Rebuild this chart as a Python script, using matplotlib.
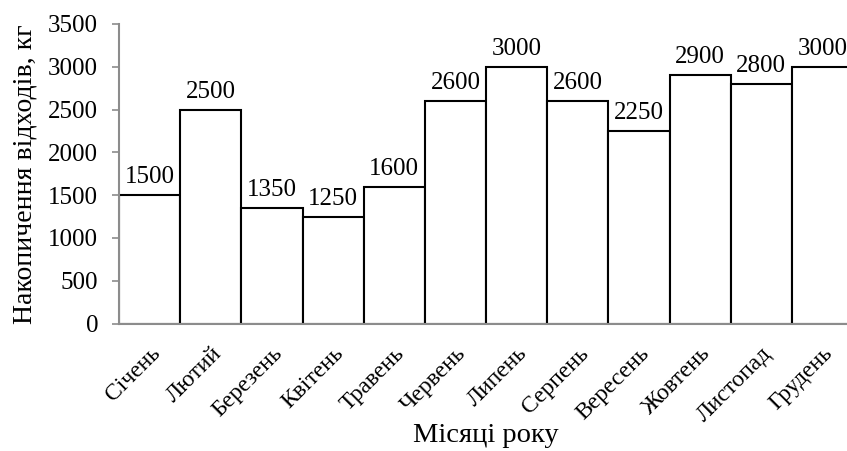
import matplotlib
matplotlib.use("Agg")
import matplotlib.pyplot as plt
from matplotlib.transforms import ScaledTranslation

months = ["Січень", "Лютий", "Березень", "Квітень", "Травень", "Червень",
          "Липень", "Серпень", "Вересень", "Жовтень", "Листопад", "Грудень"]
waste_kg = [1500, 2500, 1350, 1250, 1600, 2600, 3000, 2600, 2250, 2900, 2800, 3000]
y_ticks = [0, 500, 1000, 1500, 2000, 2500, 3000, 3500]

plt.rcParams["font.family"] = ["Liberation Serif", "DejaVu Serif"]

fig = plt.figure(figsize=(8.47, 4.51), dpi=100)
ax = fig.add_axes([119 / 847, 1 - 323.5 / 451, 734 / 847, 299.5 / 451])

x = list(range(len(months)))
ax.bar(x, waste_kg, width=1.0, color="white", edgecolor="black", linewidth=1.5, zorder=2)

for xi, v in zip(x, waste_kg):
    ax.annotate(f"{v}", (xi, v), xytext=(0, 5), textcoords="offset points",
                ha="center", va="bottom", fontsize=18, color="black")

ax.set_xlim(-0.5, len(months) - 0.5)
ax.set_ylim(0, 3500)
ax.set_yticks(y_ticks)
ax.set_yticklabels([str(t) for t in y_ticks], fontsize=18)
ax.set_xticks(x)
ax.set_xticklabels(months, fontsize=17, rotation=45, ha="right",
                   rotation_mode="anchor")
shift = ScaledTranslation(-4 / 100, 0, fig.dpi_scale_trans)
for lbl in ax.get_xticklabels():
    lbl.set_transform(lbl.get_transform() + shift)

ax.tick_params(axis="y", direction="out", length=5, width=1.2, color="#8c8c8c", pad=10)
ax.tick_params(axis="x", length=0, pad=14)

for side in ["top", "right"]:
    ax.spines[side].set_visible(False)
for side in ["left", "bottom"]:
    ax.spines[side].set_color("#8c8c8c")
    ax.spines[side].set_linewidth(1.5)
    ax.spines[side].set_zorder(3)

ax.set_ylabel("Накопичення відходів, кг", fontsize=20, labelpad=8)
ax.set_xlabel("Місяці року", fontsize=20.5, labelpad=-2)

fig.savefig("out.png", dpi=100)
